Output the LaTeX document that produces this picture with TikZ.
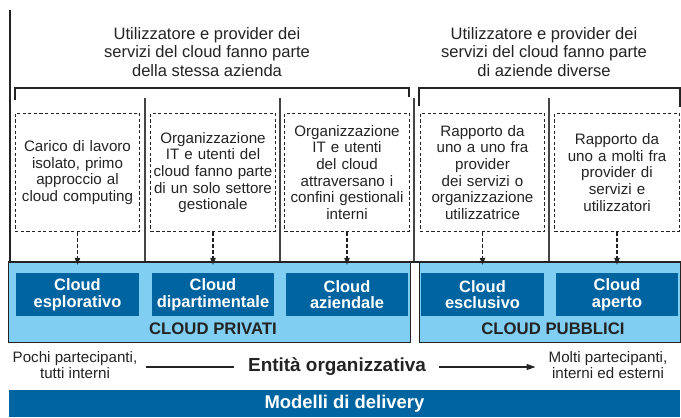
\documentclass[tikz,border=0pt]{standalone}
\usepackage{fontspec}
\setmainfont{Liberation Sans}
\usetikzlibrary{arrows.meta}

\definecolor{skyblue}{RGB}{128,206,242}
\definecolor{deepblue}{RGB}{0,100,160}
\definecolor{inkgray}{RGB}{35,35,35}

\tikzset{
  header/.style={align=center, inner sep=0, font=\fontsize{16.6}{18.3}\selectfont, text=inkgray},
  taskbox/.style={draw=inkgray, line width=1.1, dash pattern=on 3.2 off 2.4,
    minimum width=125, minimum height=119, text width=124, align=center, inner sep=0,
    font=\fontsize{15.2}{16.7}\selectfont, text=inkgray},
  cloudbox/.style={fill=deepblue, text=white, minimum width=123, minimum height=43,
    align=center, inner sep=0, font=\bfseries\fontsize{16.5}{16.8}\selectfont},
  panel/.style={fill=skyblue, draw=inkgray, line width=0.8},
  panellabel/.style={inner sep=0, text=inkgray, font=\bfseries\fontsize{16.8}{18}\selectfont},
  sideinfo/.style={align=center, inner sep=0, text=inkgray, font=\fontsize{15.2}{16.5}\selectfont},
  linkarrow/.style={-{Triangle[width=5.5,length=7]}, line width=1.1, dash pattern=on 3.5 off 2.5, inkgray},
  bracket/.style={line width=1.2, inkgray},
  divider/.style={line width=1.4, inkgray!85}
}

\begin{document}
\begin{tikzpicture}[x=1bp, y=-1bp]

  % Page frame (681 x 417)
  \useasboundingbox (0,0) rectangle (681,417);

  % Dimensions
  \def\panelTop{262}
  \def\panelBot{343}

  % Group headers
  \node[header] (hdrpriv) at (207,52) {Utilizzatore e provider dei\\servizi del cloud fanno parte\\della stessa azienda};
  \node[header] (hdrpub) at (544,52) {Utilizzatore e provider dei\\servizi del cloud fanno parte\\di aziende diverse};

  % Brackets under the headers
  \draw[bracket] (15,100) -- (15,88) -- (409,88) -- (409,97);
  \draw[bracket] (419,106) -- (419,88) -- (680,88) -- (680,107);

  % Light blue panels
  \node[panel, minimum width=403, minimum height=81, inner sep=0] (priv) at (209.5,302.5) {};
  \node[panel, minimum width=262, minimum height=81, inner sep=0] (pub) at (550,302.5) {};
  \node[panellabel] (privlbl) at (213,329) {CLOUD PRIVATI};
  \node[panellabel] (publbl) at (553,329) {CLOUD PUBBLICI};

  % Column dividers
  \foreach \x in {145, 280, 414, 549} {
    \draw[divider] (\x,98) -- (\x,\panelTop);
  }

  % Thick left rule and top edge of the panels
  \draw[line width=3, inkgray] (10,10) -- (10,\panelTop);
  \draw[line width=2.6, inkgray] (8,\panelTop) -- (681,\panelTop);

  % Task descriptions (dashed) and the cloud models below them
  \foreach \i/\x/\task/\model in {
      1/77.5/{Carico di lavoro\\isolato, primo\\approccio al\\cloud computing}/{Cloud\\esplorativo},
      2/213/{Organizzazione\\IT e utenti del\\cloud fanno parte\\di un solo settore\\gestionale}/{Cloud\\dipartimentale},
      3/347/{Organizzazione\\IT e utenti\\del cloud\\attraversano i\\confini gestionali\\interni}/{Cloud\\aziendale},
      4/482.5/{Rapporto da\\uno a uno fra\\provider\\dei servizi o\\organizzazione\\utilizzatrice}/{Cloud\\esclusivo},
      5/617/{Rapporto da\\uno a molti fra\\provider di\\servizi e\\utilizzatori}/{Cloud\\aperto}} {
    \node[taskbox] (t\i) at (\x,172.5) {\task};
    \node[cloudbox] (c\i) at (\x,294.5) {\model};
    \draw[linkarrow] (t\i.south) -- ([yshift=-3]t\i.south |- priv.north);
  }

  % Organisational entity axis
  \node[sideinfo] (few) at (75,365) {Pochi partecipanti,\\tutti interni};
  \node[inner sep=0, text=inkgray, font=\bfseries\fontsize{19}{21}\selectfont] (entity) at (337,367) {Entità organizzativa};
  \node[sideinfo] (many) at (608,365) {Molti partecipanti,\\interni ed esterni};
  \draw[line width=1.2, inkgray, shorten <=9, shorten >=14] (few.east |- entity) -- (entity.west);
  \draw[line width=1.2, inkgray, -{Triangle[width=6,length=9]}, shorten <=13, shorten >=13] (entity.east) -- (many.west |- entity);

  % Bottom bar
  \node[fill=deepblue, minimum width=673, minimum height=27, inner sep=0, text=white,
    font=\bfseries\fontsize{18.5}{20}\selectfont] (delivery) at (344.5,403.5) {Modelli di delivery};

\end{tikzpicture}
\end{document}
